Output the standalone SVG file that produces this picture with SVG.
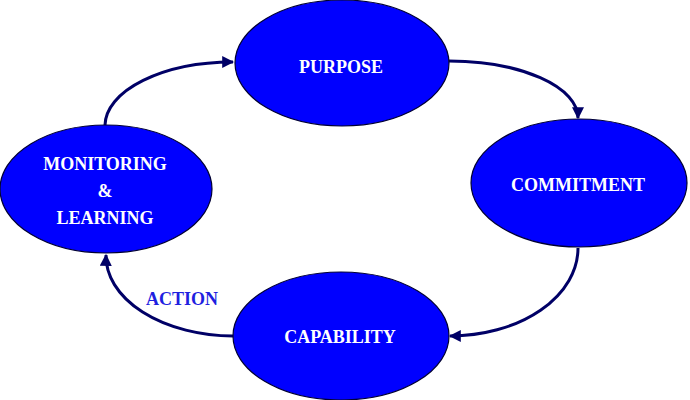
<svg xmlns="http://www.w3.org/2000/svg" width="690" height="400" viewBox="0 0 690 400">
<style>
.node{fill:#0000FF;stroke:#000033;stroke-width:1.2}
.lbl{font-family:"Liberation Serif","Times New Roman",serif;font-weight:bold;font-size:18px;fill:#FFFFFF;text-anchor:middle}
.edge{fill:none;stroke:#000066;stroke-width:3;marker-end:url(#arr)}
.act{font-family:"Liberation Serif","Times New Roman",serif;font-weight:bold;font-size:18px;fill:#1F1FE0;text-anchor:middle}
</style>
<defs>
<marker id="arr" viewBox="0 0 10 10" refX="9" refY="5" markerWidth="4" markerHeight="4" orient="auto" markerUnits="strokeWidth">
<path d="M0,0 L10,5 L0,10 z" fill="#000066"/>
</marker>
</defs>
<rect width="690" height="400" fill="#FFFFFF"/>
<g id="connectors">
<path class="edge" d="M105,125 A128 64 0 0 1 233,62"/>
<path class="edge" d="M449,61 A129 57 0 0 1 578,118"/>
<path class="edge" d="M578,248 A128 88 0 0 1 450,336"/>
<path class="edge" d="M233,336 A128 80 0 0 1 106,255"/>
</g>
<g id="purpose">
<ellipse class="node" cx="342" cy="63" rx="107" ry="63"/>
<text class="lbl" x="341" y="73">PURPOSE</text>
</g>
<g id="commitment">
<ellipse class="node" cx="579" cy="183" rx="108" ry="64"/>
<text class="lbl" x="578" y="191">COMMITMENT</text>
</g>
<g id="capability">
<ellipse class="node" cx="341" cy="336" rx="108" ry="64"/>
<text class="lbl" x="340" y="343">CAPABILITY</text>
</g>
<g id="monitoring">
<ellipse class="node" cx="106" cy="189" rx="106" ry="64"/>
<text class="lbl" x="105" y="170">MONITORING</text>
<text class="lbl" x="105" y="197">&amp;</text>
<text class="lbl" x="105" y="224">LEARNING</text>
</g>
<g id="action-label">
<text class="act" x="182" y="305">ACTION</text>
</g>
</svg>
